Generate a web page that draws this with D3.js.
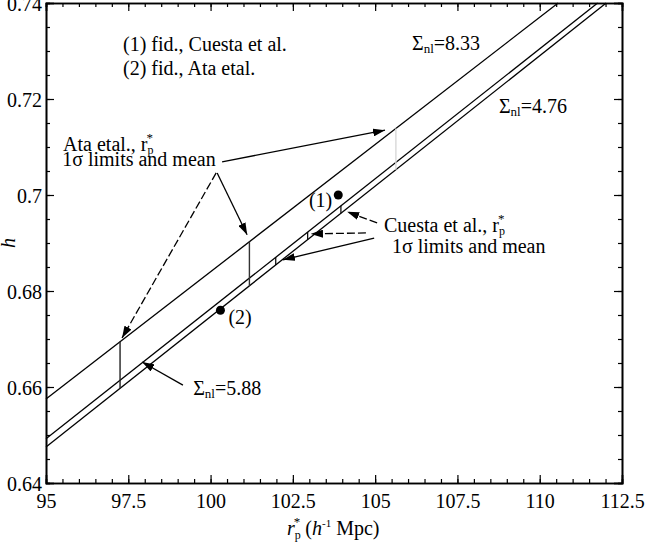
<!DOCTYPE html>
<html>
<head>
<meta charset="utf-8">
<script src="https://cdn.jsdelivr.net/npm/d3@7"></script>
<style>
  body { margin: 0; background: #fff; }
  svg text { font-family: "Liberation Serif", "Times New Roman", "DejaVu Serif", serif; fill: #000; }
</style>
</head>
<body>
<svg id="chart" width="645" height="546"></svg>
<script>
// axis ranges and ticks
var xDomain = [95, 112.5];
var yDomain = [0.64, 0.74];
var xMajor = [95, 97.5, 100, 102.5, 105, 107.5, 110, 112.5];
var yMajor = [0.64, 0.66, 0.68, 0.7, 0.72, 0.74];

// the three Sigma_nl lines: start (r at left edge) and end (where they leave the top)
var sigmaLabels = ["8.33", "5.88", "4.76"];
var lineR0 = [95, 95, 95];
var lineH0 = [0.6575, 0.6492, 0.6475];
var lineR1 = [110.56, 111.76, 112.02];
var lineH1 = [0.74, 0.74, 0.74];

// Ata etal. r_p^* : lower limit, mean, upper limit (from top line to bottom line)
var ataR = [97.25, 101.18, 105.63];
var ataColor = ["#222", "#333", "#d8d8d8"];
// Cuesta et al. r_p^* : lower limit, mean, upper limit (between the two lower lines)
var cuestaR = [101.98, 102.95, 103.96];

// fiducial points
var fidLabels = ["(1)", "(2)"];
var fidR = [103.88, 100.30];
var fidH = [0.700, 0.676];

var svg = d3.select("#chart"),
    margin = {left: 46, top: 3, right: 23, bottom: 63},
    width = 645 - margin.left - margin.right,
    height = 546 - margin.top - margin.bottom;

var x = d3.scaleLinear().domain(xDomain).range([0, width]);
var y = d3.scaleLinear().domain(yDomain).range([height, 0]);

var g = svg.append("g").attr("transform", "translate(" + margin.left + "," + margin.top + ")");

function hAt(i, r) {
  return lineH0[i] + (lineH1[i] - lineH0[i]) * (r - lineR0[i]) / (lineR1[i] - lineR0[i]);
}

// arrow marker
svg.append("defs").append("marker")
    .attr("id", "arrow")
    .attr("viewBox", "0 0 12 8")
    .attr("refX", 12).attr("refY", 4)
    .attr("markerWidth", 12).attr("markerHeight", 8)
    .attr("markerUnits", "userSpaceOnUse")
    .attr("orient", "auto")
  .append("path")
    .attr("d", "M0,0 L12,4 L0,8 Z")
    .attr("fill", "#000");

// lines
g.append("g").selectAll("line")
    .data(sigmaLabels)
    .enter().append("line")
    .attr("x1", function(d, i) { return x(lineR0[i]); })
    .attr("y1", function(d, i) { return y(lineH0[i]); })
    .attr("x2", function(d, i) { return x(lineR1[i]); })
    .attr("y2", function(d, i) { return y(lineH1[i]); })
    .attr("stroke", "#000")
    .attr("stroke-width", 1.3);

// Ata limits
g.append("g").selectAll("line")
    .data(ataR)
    .enter().append("line")
    .attr("x1", function(d) { return x(d); })
    .attr("x2", function(d) { return x(d); })
    .attr("y1", function(d) { return y(hAt(0, d)); })
    .attr("y2", function(d) { return y(hAt(2, d)); })
    .attr("stroke", function(d, i) { return ataColor[i]; })
    .attr("stroke-width", 1.4);

// Cuesta limits
g.append("g").selectAll("line")
    .data(cuestaR)
    .enter().append("line")
    .attr("x1", function(d) { return x(d); })
    .attr("x2", function(d) { return x(d); })
    .attr("y1", function(d) { return y(hAt(1, d)); })
    .attr("y2", function(d) { return y(hAt(2, d)); })
    .attr("stroke", "#000")
    .attr("stroke-width", 1.2);

// fiducial points
g.append("g").selectAll("circle")
    .data(fidR)
    .enter().append("circle")
    .attr("cx", function(d) { return x(d); })
    .attr("cy", function(d, i) { return y(fidH[i]); })
    .attr("r", 4.5)
    .attr("fill", "#000");

g.append("text").attr("x", x(fidR[0]) - 6).attr("y", y(fidH[0]) + 12)
    .attr("text-anchor", "end").attr("font-size", 20).attr("fill", "#333").text(fidLabels[0]);
g.append("text").attr("x", x(fidR[1]) + 8).attr("y", y(fidH[1]) + 14)
    .attr("font-size", 20).attr("fill", "#333").text(fidLabels[1]);

// axes, ticks pointing inward
var minorX = d3.range(95, 112.51, 0.5), minorY = d3.range(0.64, 0.7401, 0.005);

g.append("g").attr("transform", "translate(0," + height + ")")
    .call(d3.axisBottom(x).tickValues(minorX).tickSize(-4).tickFormat(""));
g.append("g").attr("transform", "translate(0," + height + ")")
    .call(d3.axisBottom(x).tickValues(xMajor).tickSize(-8).tickPadding(8)
      .tickFormat(function(d) { return String(d); }))
    .attr("class", "xaxis");
g.append("g")
    .call(d3.axisTop(x).tickValues(minorX).tickSize(-4).tickFormat(""));
g.append("g")
    .call(d3.axisTop(x).tickValues(xMajor).tickSize(-8).tickFormat(""));

g.append("g")
    .call(d3.axisLeft(y).tickValues(minorY).tickSize(-4).tickFormat(""));
g.append("g")
    .call(d3.axisLeft(y).tickValues(yMajor).tickSize(-8).tickPadding(4)
      .tickFormat(function(d) { return String(+d.toFixed(3)); }))
    .attr("class", "yaxis");
g.append("g").attr("transform", "translate(" + width + ",0)")
    .call(d3.axisRight(y).tickValues(minorY).tickSize(-4).tickFormat(""));
g.append("g").attr("transform", "translate(" + width + ",0)")
    .call(d3.axisRight(y).tickValues(yMajor).tickSize(-8).tickFormat(""));

g.selectAll(".domain").attr("stroke", "#000").attr("stroke-width", 1.6);
g.selectAll(".tick line").attr("stroke", "#000").attr("stroke-width", 1.2);
g.selectAll(".xaxis .tick text").attr("font-size", 20).attr("dy", "0.85em");
g.selectAll(".yaxis .tick text").attr("font-size", 20).attr("dy", "0.38em");

// axis titles
g.append("text")
    .attr("transform", "translate(" + (15 - margin.left) + "," + (243 - margin.top) + ") rotate(-90)")
    .attr("text-anchor", "middle").attr("font-size", 20).attr("font-style", "italic").text("h");

var xl = g.append("text").attr("x", 287 - margin.left).attr("y", 535 - margin.top).attr("font-size", 20);
xl.append("tspan").attr("font-style", "italic").text("r");
xl.append("tspan").attr("font-size", 12).attr("dy", 4).text("p");
xl.append("tspan").attr("font-size", 13).attr("dx", -7).attr("dy", -13).text("*");
xl.append("tspan").attr("dy", 9).text(" (");
xl.append("tspan").attr("font-style", "italic").text("h");
xl.append("tspan").attr("font-size", 11).attr("dy", -8).text("-1");
xl.append("tspan").attr("dy", 8).text(" Mpc)");

// annotations (positions in data units)
function label(r, h, parts, anchor) {
  var t = g.append("text").attr("x", x(r)).attr("y", y(h)).attr("font-size", 20)
      .attr("text-anchor", anchor || "start");
  parts.forEach(function(p) {
    var s = t.append("tspan").text(p.t);
    if (p.size) s.attr("font-size", p.size);
    if (p.dx) s.attr("dx", p.dx);
    if (p.dy) s.attr("dy", p.dy);
  });
  return t;
}

label(97.34, 0.7300, [{t: "(1) fid., Cuesta et al."}]);
label(97.34, 0.7250, [{t: "(2) fid., Ata etal."}]);

label(95.52, 0.7092, [{t: "Ata etal., r"}, {t: "p", size: 12, dy: 3}, {t: "*", size: 13, dx: -7, dy: -12}]);
label(95.49, 0.7060, [{t: "1σ limits and mean"}]);

label(105.27, 0.6923, [{t: "Cuesta et al., r"}, {t: "p", size: 12, dy: 3}, {t: "*", size: 13, dx: -7, dy: -12}]);
label(105.51, 0.6879, [{t: "1σ limits and mean"}]);

function sigma(r, h, v) {
  label(r, h, [{t: "Σ"}, {t: "nl", size: 13, dy: 3}, {t: "=" + v, dy: -3}]);
}
sigma(106.12, 0.7302, sigmaLabels[0]);
sigma(99.47, 0.6583, sigmaLabels[1]);
sigma(108.76, 0.7171, sigmaLabels[2]);

// arrows: [r1, h1, r2, h2, dashed]
var arrows = [
  [100.35, 0.7069, 105.30, 0.7135, false],
  [100.20, 0.7046, 101.11, 0.6917, false],
  [100.17, 0.7046, 97.31, 0.6702, true],
  [99.16, 0.6604, 97.92, 0.6652, false],
  [105.06, 0.6942, 104.15, 0.6965, true],
  [104.72, 0.6921, 103.05, 0.6919, true],
  [104.97, 0.6910, 102.20, 0.6865, false]
];
g.append("g").selectAll("line")
    .data(arrows)
    .enter().append("line")
    .attr("x1", function(d) { return x(d[0]); })
    .attr("y1", function(d) { return y(d[1]); })
    .attr("x2", function(d) { return x(d[2]); })
    .attr("y2", function(d) { return y(d[3]); })
    .attr("stroke", "#000")
    .attr("stroke-width", 1.3)
    .attr("stroke-dasharray", function(d) { return d[4] ? "8,3" : null; })
    .attr("marker-end", "url(#arrow)");
</script>
</body>
</html>
